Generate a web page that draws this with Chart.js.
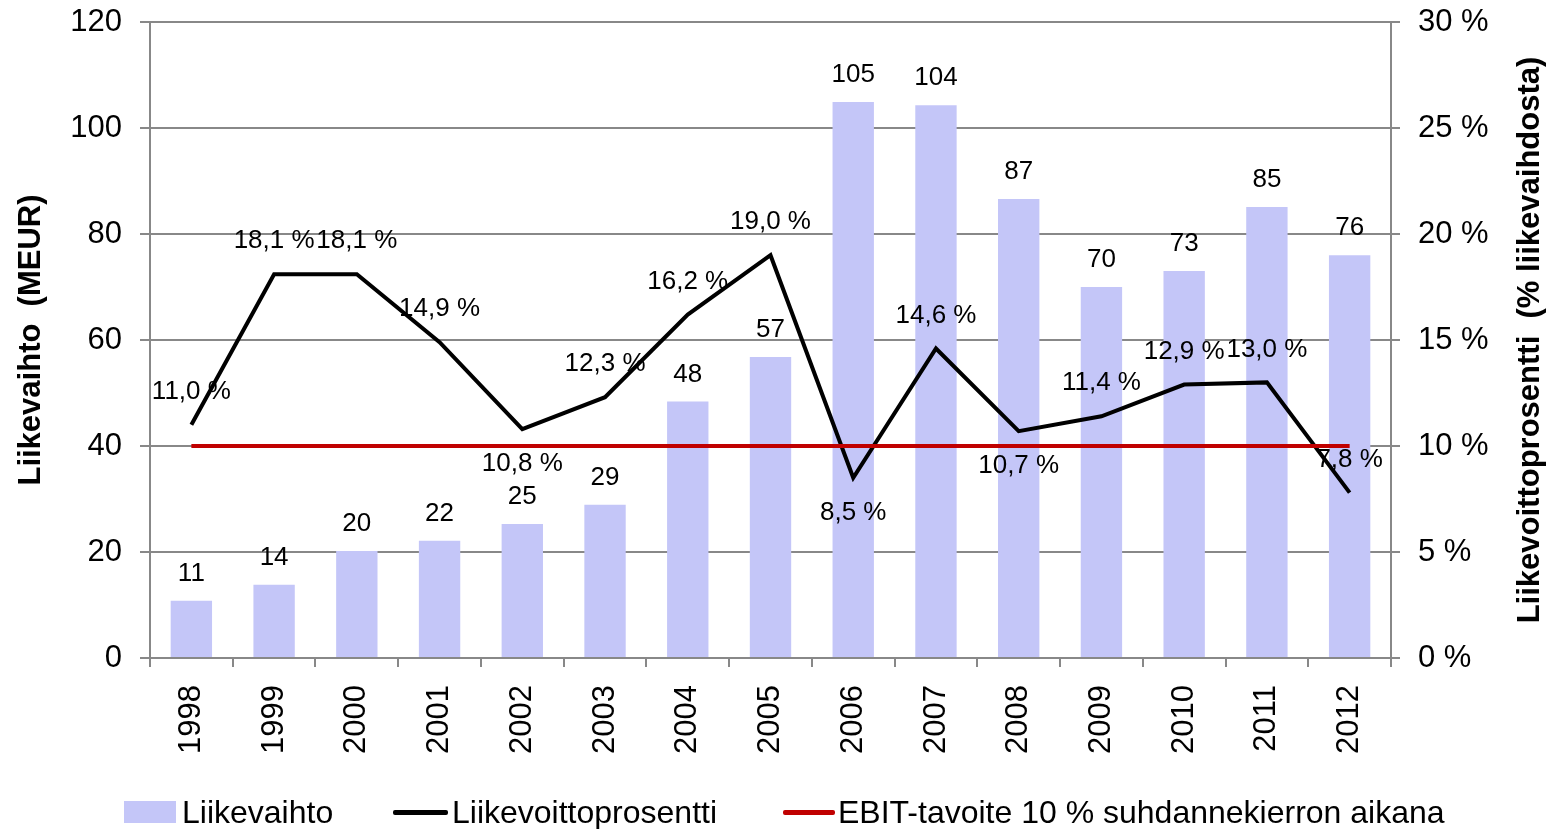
<!DOCTYPE html>
<html>
<head>
<meta charset="utf-8">
<script src="https://cdn.jsdelivr.net/npm/chart.js@4"></script>
<style>
  html, body { margin: 0; padding: 0; background: #fff; }
  #wrap { position: relative; width: 1552px; height: 829px; }
  .leg { position: absolute; top: 795px; font: 32px "Liberation Sans", Arial, sans-serif; color: #000; white-space: nowrap; line-height: 34px; }
  .sw { position: absolute; }
</style>
</head>
<body>
<div id="wrap">
  <canvas id="chart" width="1552" height="829"></canvas>
  <div class="sw" style="left:124px;top:801px;width:52px;height:22px;background:#c4c6f8"></div>
  <div class="leg" style="left:182px">Liikevaihto</div>
  <div class="sw" style="left:393px;top:810px;width:55px;height:5px;background:#000;border-radius:2px"></div>
  <div class="leg" style="left:452px">Liikevoittoprosentti</div>
  <div class="sw" style="left:783px;top:810px;width:52px;height:5px;background:#c00000;border-radius:2px"></div>
  <div class="leg" style="left:838px">EBIT-tavoite 10 % suhdannekierron aikana</div>
</div>
<script>
const years = ['1998', '1999', '2000', '2001', '2002', '2003', '2004', '2005', '2006', '2007', '2008', '2009', '2010', '2011', '2012'];
const revenue = [10.8, 13.8, 20.2, 22.1, 25.3, 28.9, 48.4, 56.8, 104.9, 104.3, 86.6, 70, 73, 85.1, 76];
const ebitPct = [11.0, 18.1, 18.1, 14.9, 10.8, 12.3, 16.2, 19.0, 8.5, 14.6, 10.7, 11.4, 12.9, 13.0, 7.8];
const ebitTarget = [10, 10, 10, 10, 10, 10, 10, 10, 10, 10, 10, 10, 10, 10, 10];

const leftTitle = 'Liikevaihto  (MEUR)';
const rightTitle = 'Liikevoittoprosentti  (% liikevaihdosta)';

// labels of these years sit under the line point
const labelsBelow = ['2002', '2006', '2008'];

const FONT = '"Liberation Sans", Arial, sans-serif';
const GRID = '#888888';

function pct(v) {
  return v.toFixed(1).replace('.', ',') + ' %';
}

const labelPlugin = {
  id: 'valueLabels',
  afterDatasetsDraw(chart) {
    const ctx = chart.ctx;
    ctx.save();
    ctx.fillStyle = '#000';
    ctx.textAlign = 'center';
    ctx.textBaseline = 'middle';
    ctx.font = '26px ' + FONT;
    chart.getDatasetMeta(0).data.forEach((bar, i) => {
      ctx.fillText(String(Math.round(revenue[i])), bar.x, bar.y - 27);
    });
    chart.getDatasetMeta(1).data.forEach((pt, i) => {
      const below = labelsBelow.includes(years[i]);
      ctx.fillText(pct(ebitPct[i]), pt.x, below ? pt.y + 35 : pt.y - 33);
    });

    // axis titles, both read bottom to top
    const cy = (chart.chartArea.top + chart.chartArea.bottom) / 2;
    ctx.font = 'bold 31px ' + FONT;
    ctx.save();
    ctx.translate(31, cy);
    ctx.rotate(-Math.PI / 2);
    ctx.fillText(leftTitle, 0, 0);
    ctx.restore();
    ctx.save();
    ctx.translate(1530, cy);
    ctx.rotate(-Math.PI / 2);
    ctx.fillText(rightTitle, 0, 0);
    ctx.restore();
    ctx.restore();
  }
};

const tickFont = { family: FONT, size: 31 };

// fixed axis widths; drop the extra label padding above/below the y axes
function fitY(width) {
  return s => {
    s.width = width;
    s.paddingTop = 0;
    s.paddingBottom = 0;
  };
}

new Chart(document.getElementById('chart'), {
  data: {
    labels: years,
    datasets: [
      {
        type: 'bar',
        label: 'Liikevaihto',
        data: revenue,
        backgroundColor: '#c4c6f8',
        barPercentage: 0.5,
        categoryPercentage: 1.0,
        yAxisID: 'y',
        order: 3
      },
      {
        type: 'line',
        label: 'Liikevoittoprosentti',
        data: ebitPct,
        borderColor: '#000',
        borderWidth: 4,
        pointRadius: 0,
        tension: 0,
        yAxisID: 'y1',
        order: 2
      },
      {
        type: 'line',
        label: 'EBIT-tavoite 10 % suhdannekierron aikana',
        data: ebitTarget,
        borderColor: '#c00000',
        borderWidth: 4,
        pointRadius: 0,
        yAxisID: 'y1',
        order: 1
      }
    ]
  },
  options: {
    responsive: false,
    animation: false,
    layout: { padding: { top: 22, bottom: 45, left: 0, right: 0 } },
    plugins: { legend: { display: false }, tooltip: { enabled: false } },
    scales: {
      x: {
        grid: { offset: true, drawOnChartArea: false, color: GRID, lineWidth: 2, tickLength: 9 },
        border: { color: GRID, width: 2 },
        ticks: { minRotation: 90, maxRotation: 90, autoSkip: false, padding: 18, color: '#000', font: tickFont },
        afterFit: s => { s.height = 126; }
      },
      y: {
        position: 'left',
        min: 0,
        max: 120,
        ticks: { stepSize: 20, padding: 18, color: '#000', font: tickFont },
        grid: { color: GRID, lineWidth: 2, tickLength: 10 },
        border: { color: GRID, width: 2 },
        afterFit: fitY(150)
      },
      y1: {
        position: 'right',
        min: 0,
        max: 30,
        ticks: { stepSize: 5, padding: 18, color: '#000', font: tickFont, callback: v => v + ' %' },
        grid: { drawOnChartArea: false, color: GRID, lineWidth: 2, tickLength: 9 },
        border: { color: GRID, width: 2 },
        afterFit: fitY(161)
      }
    }
  },
  plugins: [labelPlugin]
});
</script>
</body>
</html>
